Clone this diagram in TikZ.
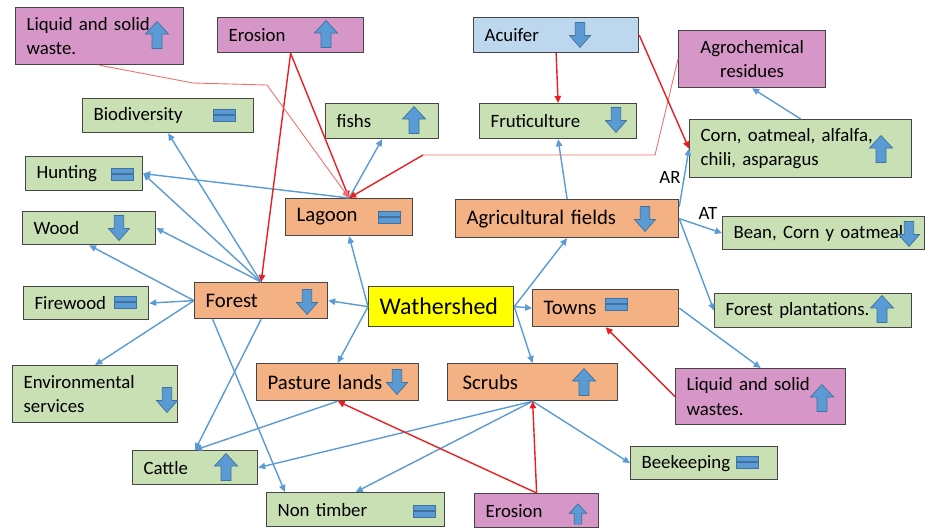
\documentclass[tikz,border=0pt]{standalone}
\usepackage{fontspec}
\setmainfont{Carlito}
\usetikzlibrary{arrows.meta}

\definecolor{boxline}{RGB}{70,70,70}
\definecolor{greenfill}{RGB}{200,224,180}
\definecolor{orangefill}{RGB}{244,177,131}
\definecolor{pinkfill}{RGB}{214,150,200}
\definecolor{bluefill}{RGB}{189,215,238}
\definecolor{yellowfill}{RGB}{255,255,0}
\definecolor{iconblue}{RGB}{91,155,213}
\definecolor{iconedge}{RGB}{65,113,156}
\definecolor{iconcyan}{RGB}{30,165,225}
\definecolor{flowblue}{RGB}{91,155,213}
\definecolor{causered}{RGB}{235,30,35}
\definecolor{faintred}{RGB}{240,110,110}

\tikzset{
  cell/.style 2 args={draw=boxline, line width=0.7pt, anchor=north west, inner xsep=0.22cm, inner ysep=1pt,
    minimum width={#1*0.02cm}, minimum height={#2*0.02cm}, text width={#1*0.02cm-0.44cm}, align=left,
    font=\fontsize{10.7}{14}\selectfont},
  greencell/.style={fill=greenfill},
  pinkcell/.style={fill=pinkfill},
  bluecell/.style={fill=bluefill},
  orangecell/.style={fill=orangefill, font=\fontsize{11.8}{14}\selectfont},
  yellowcell/.style={fill=yellowfill, font=\fontsize{13.6}{16}\selectfont},
  flow/.style={draw=flowblue, line width=0.8pt, -{Triangle[length=4pt,width=3.6pt]}},
  cause/.style={draw=causered, line width=0.8pt, -{Triangle[length=4pt,width=3.6pt]}},
  faint/.style={draw=faintred, line width=0.5pt},
  uparr/.pic={\filldraw[draw=iconedge, fill=iconblue, line width=0.4pt, pic actions]
    (0,-13.5) -- (11.5,-1) -- (5,-1) -- (5,13.5) -- (-5,13.5) -- (-5,-1) -- (-11.5,-1) -- cycle;},
  dnarr/.pic={\filldraw[draw=iconedge, fill=iconblue, line width=0.4pt, pic actions]
    (0,12.5) -- (10.5,0.5) -- (4.7,0.5) -- (4.7,-12.5) -- (-4.7,-12.5) -- (-4.7,0.5) -- (-10.5,0.5) -- cycle;},
  eqic/.pic={\filldraw[draw=iconedge, fill=iconblue, line width=0.4pt]
    (-11,-6) rectangle (11,-0.6) (-11,0.6) rectangle (11,6);},
}

\begin{document}
\begin{tikzpicture}[x=0.02cm, y=-0.02cm]
\useasboundingbox (0,0) rectangle (925,528);
% boxes
\node[cell={168}{57}, pinkcell] (lwtl) at (15,7) {Liquid and solid\\waste.};
\node[cell={146}{35}, pinkcell] (erost) at (217,17) {Erosion};
\node[cell={165}{35}, bluecell] (acuifer) at (473,17) {Acuifer};
\node[cell={147}{57}, pinkcell, align=center] (agro) at (678,30) {Agrochemical\\residues};
\node[cell={171}{34}, greencell] (biodiv) at (82,98) {Biodiversity};
\node[cell={113}{35}, greencell] (fishs) at (325,103) {fishs};
\node[cell={157}{35}, greencell] (fruti) at (479,103) {Fruticulture};
\node[cell={222}{58}, greencell] (corn) at (689,119) {Corn, oatmeal, alfalfa,\\chili, asparagus};
\node[cell={117}{34}, greencell] (hunting) at (25,156) {Hunting};
\node[cell={127}{37}, orangecell] (lagoon) at (285,198) {Lagoon};
\node[cell={223}{38}, orangecell] (agri) at (455,199) {Agricultural fields};
\node[cell={133}{33}, greencell] (wood) at (22,211) {Wood};
\node[cell={202}{33}, greencell] (bean) at (722,216) {Bean, Corn y oatmeal};
\node[cell={125}{33}, greencell] (firewood) at (23,286) {Firewood};
\node[cell={133}{36}, orangecell] (forest) at (194,282) {Forest};
\node[cell={145}{40}, yellowcell] (wat) at (368,286) {Wathershed};
\node[cell={146}{37}, orangecell] (towns) at (532,289) {Towns};
\node[cell={197}{34}, greencell] (fplant) at (714,293) {Forest plantations.};
\node[cell={165}{57}, greencell] (env) at (12,365) {Environmental\\services};
\node[cell={162}{37}, orangecell] (pasture) at (256,363) {Pasture lands};
\node[cell={162}{37}, orangecell, inner xsep=0.3cm] (scrubs) at (447,363) {Scrubs};
\node[cell={170}{56}, pinkcell] (lwr) at (675,368) {Liquid and solid\\wastes.};
\node[cell={125}{34}, greencell] (cattle) at (132,450) {Cattle};
\node[cell={147}{33}, greencell] (bee) at (630,446) {Beekeeping};
\node[cell={178}{34}, greencell] (nontim) at (266,492) {Non timber};
\node[cell={124}{34}, pinkcell] (erosb) at (474,493) {Erosion};
\node[font=\fontsize{10.7}{12}\selectfont] (arlbl) at (670,177) {AR};
\node[font=\fontsize{10.7}{12}\selectfont] (atlbl) at (708,213) {AT};
% trend icons
\pic[fill=iconcyan] at (157,35) {uparr};
\pic at (326,34) {uparr};
\pic at (580,35) {dnarr};
\pic at (224,115) {eqic};
\pic at (414,120) {uparr};
\pic at (616,120) {dnarr};
\pic at (881,149) {uparr};
\pic at (122,174) {eqic};
\pic at (389,217) {eqic};
\pic at (645,219) {dnarr};
\pic at (119,228) {dnarr};
\pic at (909,234) {dnarr};
\pic at (125,302) {eqic};
\pic at (307,302) {dnarr};
\pic at (616,304) {eqic};
\pic at (882,309) {uparr};
\pic at (167,400) {dnarr};
\pic at (397,382) {dnarr};
\pic at (584,382) {uparr};
\pic at (822,398) {uparr};
\pic at (226,467) {uparr};
\pic at (747,462) {eqic};
\pic at (424,511) {eqic};
\pic[scale=0.75] at (578,514) {uparr};
% bends
\coordinate (wbend1) at (193,83);
\coordinate (wbend2) at (267,85);
\coordinate (abend1) at (655,155);
\coordinate (abend2) at (423,155);
% blue links
\draw[flow] (wat.west) -- (lagoon.south);
\draw[flow] (wat.west) -- (forest.east);
\draw[flow] (wat.west) -- (pasture.north);
\draw[flow] (wat.east) -- (agri.south);
\draw[flow] (wat.east) -- (towns.west);
\draw[flow] (wat.east) -- (scrubs.north);
\draw[flow] (forest.north) -- (biodiv.south);
\draw[flow] (forest.north) -- (hunting.east);
\draw[flow] (forest.north) -- (wood.east);
\draw[flow] (forest.west) -- (wood.south);
\draw[flow] (forest.west) -- (firewood.east);
\draw[flow] (forest.west) -- (env.north);
\draw[flow] (forest.south) -- (cattle.north);
\draw[flow] (forest.201.6) -- (nontim.166.9);
\draw[flow] (pasture.south) -- (cattle.north);
\draw[flow] (scrubs.south) -- (cattle.east);
\draw[flow] (scrubs.south) -- (nontim.north);
\draw[flow] (scrubs.south) -- (bee.west);
\draw[flow] (lagoon.north) -- (fishs.south);
\draw[flow] (lagoon.north) -- (hunting.east);
\draw[flow] (agri.north) -- (fruti.south);
\draw[flow] (agri.6) -- (corn.west);
\draw[flow] (agri.east) -- (bean.west);
\draw[flow] (agri.east) -- (fplant.west);
\draw[flow] (towns.east) -- (lwr.north);
\draw[flow] (corn.north) -- (agro.south);
% red links
\draw[cause] (erost.south) -- (forest.north);
\draw[cause] (erost.south) -- (lagoon.north);
\draw[faint, -{Triangle[length=4pt,width=3.6pt]}] (lwtl.south) -- (wbend1) -- (wbend2) -- (lagoon.north);
\draw[faint] (agro.west) -- (abend1) -- (abend2);
\draw[cause] (abend2) -- (lagoon.north);
\draw[cause] (acuifer.south) -- (fruti.north);
\draw[cause] (acuifer.east) -- (corn.west);
\draw[cause] (lwr.west) -- (towns.south);
\draw[cause] (erosb.north) -- (pasture.south);
\draw[cause] (erosb.north) -- (scrubs.south);
\end{tikzpicture}
\end{document}
